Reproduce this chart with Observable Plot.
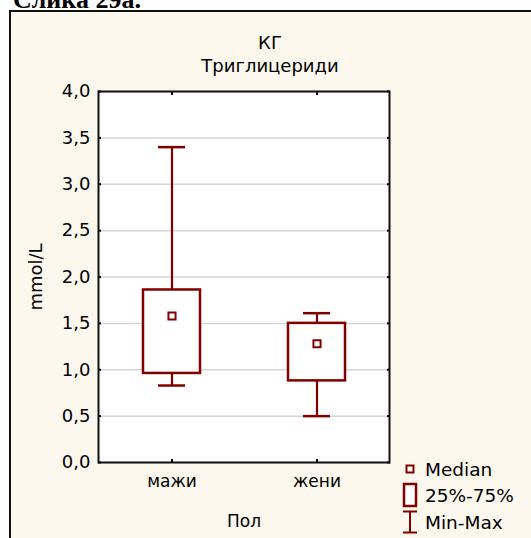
<!DOCTYPE html>
<html>
<head>
<meta charset="utf-8">
<script src="https://cdn.jsdelivr.net/npm/d3@7"></script>
<script src="https://cdn.jsdelivr.net/npm/@observablehq/plot@0.6"></script>
<style>
  html, body { margin: 0; padding: 0; }
  body { width: 531px; height: 538px; overflow: hidden; background: #fff; position: relative;
         font-family: "DejaVu Sans", "Liberation Sans", sans-serif; color: #000; }
  #panel { position: absolute; left: 9px; top: 10px; width: 560px; height: 560px;
           border: 2px solid #111; box-sizing: border-box; background: #fdf8ee; }
  #caption { position: absolute; left: 0; top: 0; }
  #title { position: absolute; left: 0; width: 540px; text-align: center; font-size: 18px; line-height: 23px; top: 31px; }
  #chart { position: absolute; left: 0; top: 0; }
  .lg-row { position: absolute; left: 400px; height: 26px; display: flex; align-items: center; font-size: 18.5px; }
  .lg-row svg { width: 20px; height: 26px; margin-right: 5px; }
</style>
</head>
<body>
<div id="panel"></div>
<svg id="caption" width="531" height="12"><text x="13" y="7.5" font-family="Liberation Serif, serif" font-weight="bold" font-size="26">Слика 29а.</text></svg>
<div id="title"><div>КГ</div><div>Триглицериди</div></div>
<div id="chart"></div>
<div id="legend"></div>
<script>
// Triglycerides by sex: min, quartiles, median, max (mmol/L)
const groups = ["мажи", "жени"];
const minVals = [0.83, 0.50];
const q1Vals = [0.96, 0.88];
const medianVals = [1.58, 1.28];
const q3Vals = [1.86, 1.50];
const maxVals = [3.40, 1.61];

const yTicks = [0, 0.5, 1, 1.5, 2, 2.5, 3, 3.5, 4];
const yTickLabels = ["0,0", "0,5", "1,0", "1,5", "2,0", "2,5", "3,0", "3,5", "4,0"];
const legendLabels = ["Median", "25%-75%", "Min-Max"];

const stats = groups.map((g, i) => ({
  group: g, min: minVals[i], q1: q1Vals[i], median: medianVals[i], q3: q3Vals[i], max: maxVals[i]
}));

const red = "#800000";
const fmtY = d => yTickLabels[yTicks.indexOf(d)];

const chart = Plot.plot({
  width: 531,
  height: 538,
  marginLeft: 98,
  marginRight: 142,
  marginTop: 91,
  marginBottom: 76,
  style: { background: "transparent", fontFamily: "DejaVu Sans, sans-serif", fontSize: "17px", color: "#000" },
  x: { type: "band", domain: groups, padding: 0 },
  y: { domain: [0, 4] },
  marks: [
    Plot.frame({ fill: "white" }),
    Plot.gridY(yTicks, { stroke: "#d6d6d6", strokeOpacity: 1, strokeWidth: 1.5 }),
    // whiskers
    Plot.ruleX(stats, { x: "group", y1: "min", y2: "max", stroke: red, strokeWidth: 2.2 }),
    Plot.tickY(stats, { x: "group", y: "min", stroke: red, strokeWidth: 2.5, insetLeft: 59, insetRight: 59 }),
    Plot.tickY(stats, { x: "group", y: "max", stroke: red, strokeWidth: 2.5, insetLeft: 59, insetRight: 59 }),
    // interquartile box
    Plot.barY(stats, { x: "group", y1: "q1", y2: "q3", fill: "white", stroke: red, strokeWidth: 2.5, insetLeft: 44, insetRight: 44 }),
    // median marker
    Plot.dot(stats, { x: "group", y: "median", symbol: "square", r: 4, fill: "white", stroke: red, strokeWidth: 2 }),
    // axes: labels outside, short tick marks pointing inward
    Plot.axisY(yTicks, { anchor: "left", tickSize: 0, tickPadding: 8, tickFormat: fmtY, fontSize: 18,
      label: "mmol/L", labelAnchor: "center", labelOffset: 69, labelArrow: "none" }),
    Plot.axisY(yTicks, { anchor: "left", tickSize: -3, tickFormat: () => "", label: null, strokeWidth: 2 }),
    Plot.axisY(yTicks, { anchor: "right", tickSize: -3, tickFormat: () => "", label: null, strokeWidth: 2 }),
    Plot.axisX({ anchor: "bottom", tickSize: 0, tickPadding: 12, label: "Пол", labelAnchor: "center", labelOffset: 64, labelArrow: "none" }),
    Plot.axisX({ anchor: "bottom", tickSize: -3, tickFormat: () => "", label: null, strokeWidth: 2 }),
    Plot.axisX({ anchor: "top", tickSize: -3, tickFormat: () => "", label: null, strokeWidth: 2 }),
    Plot.frame({ stroke: "#111", strokeWidth: 2 })
  ]
});
document.getElementById("chart").appendChild(chart);

// legend: median square, quartile box, min-max whisker
const icons = [
  `<svg viewBox="0 0 20 26"><rect x="6.5" y="9.5" width="7" height="7" fill="white" stroke="${red}" stroke-width="2"/></svg>`,
  `<svg viewBox="0 0 20 26"><rect x="4" y="2" width="12" height="22" fill="white" stroke="${red}" stroke-width="2.5"/></svg>`,
  `<svg viewBox="0 0 20 26"><path d="M3,2.5H17M10,2.5V23.5M3,23.5H17" fill="none" stroke="${red}" stroke-width="2"/></svg>`
];
const rowCenters = [469, 495, 522];
const legend = document.getElementById("legend");
legendLabels.forEach((label, i) => {
  const row = document.createElement("div");
  row.className = "lg-row";
  row.style.top = (rowCenters[i] - 13) + "px";
  row.innerHTML = icons[i] + `<span>${label}</span>`;
  legend.appendChild(row);
});
</script>
</body>
</html>
